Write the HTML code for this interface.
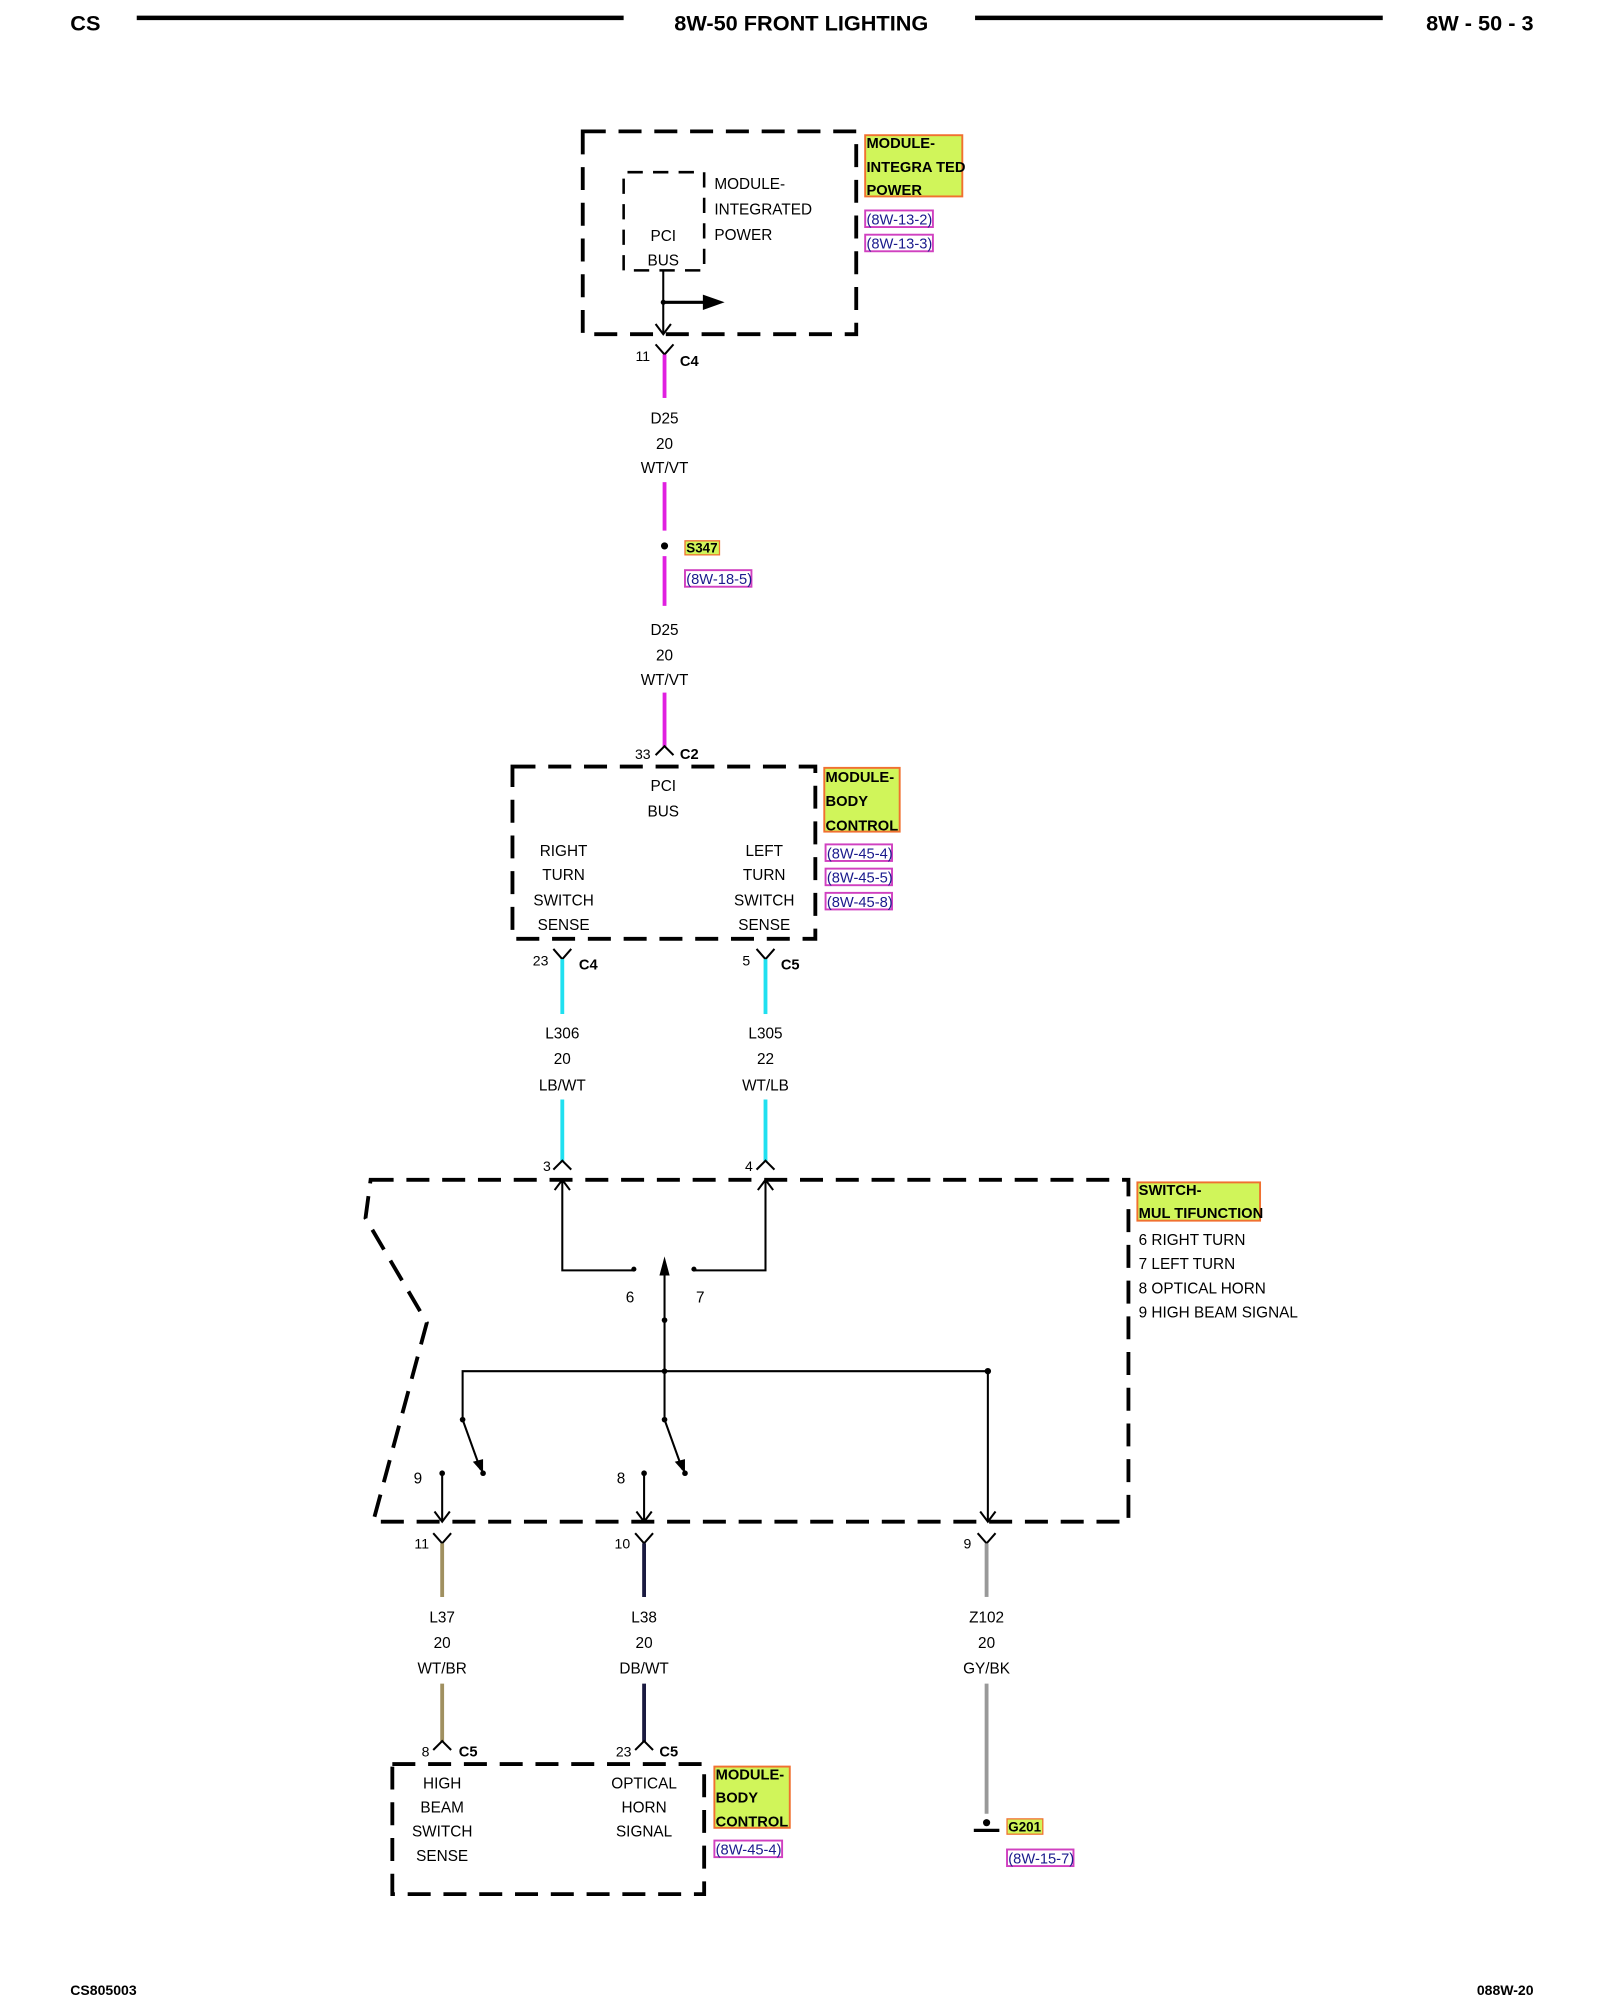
<!DOCTYPE html>
<html><head><meta charset="utf-8"><style>
html,body{margin:0;padding:0;background:#fff;}
svg{display:block;}
text{font-family:"Liberation Sans",sans-serif;fill:#000;}
.t{font-size:12px;text-anchor:middle;}
.l{font-size:12px;}
.b{font-size:11.5px;font-weight:bold;}
.r{font-size:11.5px;fill:#1a1a8c;}
.h{font-size:17px;font-weight:bold;}
.d{fill:none;stroke:#000;stroke-width:3;stroke-dasharray:18 10;}
.w{fill:none;stroke:#000;stroke-width:1.6;}
.yl{fill:#d0f55a;stroke:#f07030;stroke-width:1.5;}
.rb{fill:#fff;stroke:#d040c0;stroke-width:1.5;}
</style></head><body>
<svg width="1600" height="2000" viewBox="0 0 1252 1568" preserveAspectRatio="none" xmlns="http://www.w3.org/2000/svg">
<!-- header -->
<text x="55" y="24" class="h">CS</text>
<line x1="107" y1="14" x2="488" y2="14" stroke="#000" stroke-width="3.5"/>
<text x="627" y="24" class="h" text-anchor="middle">8W-50 FRONT LIGHTING</text>
<line x1="763" y1="14" x2="1082" y2="14" stroke="#000" stroke-width="3.5"/>
<text x="1200" y="24" class="h" text-anchor="end">8W - 50 - 3</text>
<text x="55" y="1564" style="font-size:11px;font-weight:bold">CS805003</text>
<text x="1200" y="1564" style="font-size:11px;font-weight:bold" text-anchor="end">088W-20</text>

<!-- box 1 -->
<rect x="456" y="103" width="214" height="159" class="d"/>
<path d="M488 212 V135 H551 V212 H488" fill="none" stroke="#000" stroke-width="2" stroke-dasharray="12 8"/>
<text x="519" y="189" class="t">PCI</text>
<text x="519" y="208" class="t">BUS</text>
<text x="559" y="148" class="l">MODULE-</text>
<text x="559" y="168" class="l">INTEGRATED</text>
<text x="559" y="188" class="l">POWER</text>
<line x1="519" y1="212" x2="519" y2="262" class="w"/>
<path d="M513 254 L519 262 L525 254" class="w"/>
<circle cx="519" cy="237" r="2" fill="#000"/>
<line x1="519" y1="237" x2="552" y2="237" stroke="#000" stroke-width="2.5"/>
<path d="M550 231 L567 237 L550 243Z" fill="#000"/>
<rect x="677" y="106" width="76" height="48" class="yl"/>
<text x="678" y="116" class="b">MODULE-</text>
<text x="678" y="135" class="b">INTEGRA TED</text>
<text x="678" y="153" class="b">POWER</text>
<rect x="677" y="165" width="53" height="13" class="rb"/><text x="678" y="176" class="r">(8W-13-2)</text>
<rect x="677" y="184" width="53" height="13" class="rb"/><text x="678" y="195" class="r">(8W-13-3)</text>

<!-- D25 -->
<path d="M513 270 L520 278 L527 270" class="w"/>
<text x="503" y="283" class="t" style="font-size:11px">11</text>
<text x="532" y="287" class="b">C4</text>
<line x1="520" y1="278" x2="520" y2="312" stroke="#e020e0" stroke-width="3"/>
<text x="520" y="332" class="t">D25</text><text x="520" y="352" class="t">20</text><text x="520" y="371" class="t">WT/VT</text>
<line x1="520" y1="378" x2="520" y2="416" stroke="#e020e0" stroke-width="3"/>
<circle cx="520" cy="428" r="2.8" fill="#000"/>
<rect x="536" y="424" width="27" height="11" fill="#d0f55a" stroke="#f07030"/>
<text x="537" y="433" class="b" style="font-size:10.5px">S347</text>
<rect x="536" y="447" width="52" height="13" class="rb"/><text x="537" y="458" class="r">(8W-18-5)</text>
<line x1="520" y1="436" x2="520" y2="475" stroke="#e020e0" stroke-width="3"/>
<text x="520" y="498" class="t">D25</text><text x="520" y="518" class="t">20</text><text x="520" y="537" class="t">WT/VT</text>
<line x1="520" y1="543" x2="520" y2="586" stroke="#e020e0" stroke-width="3"/>
<path d="M513 592 L520 585 L527 592" class="w"/>
<text x="503" y="595" class="t" style="font-size:11px">33</text>
<text x="532" y="595" class="b">C2</text>

<!-- box 2 -->
<rect x="401" y="601" width="237" height="135" class="d"/>
<text x="519" y="620" class="t">PCI</text><text x="519" y="640" class="t">BUS</text>
<text x="441" y="671" class="t">RIGHT</text><text x="441" y="690" class="t">TURN</text><text x="441" y="710" class="t">SWITCH</text><text x="441" y="729" class="t">SENSE</text>
<text x="598" y="671" class="t">LEFT</text><text x="598" y="690" class="t">TURN</text><text x="598" y="710" class="t">SWITCH</text><text x="598" y="729" class="t">SENSE</text>
<rect x="645" y="602" width="59" height="50" class="yl"/>
<text x="646" y="613" class="b">MODULE-</text><text x="646" y="632" class="b">BODY</text><text x="646" y="651" class="b">CONTROL</text>
<rect x="646" y="662" width="52" height="13" class="rb"/><text x="647" y="673" class="r">(8W-45-4)</text>
<rect x="646" y="681" width="52" height="13" class="rb"/><text x="647" y="692" class="r">(8W-45-5)</text>
<rect x="646" y="700" width="52" height="13" class="rb"/><text x="647" y="711" class="r">(8W-45-8)</text>

<!-- cyan wires -->
<path d="M433 744 L440 752 L447 744" class="w"/>
<path d="M592 744 L599 752 L606 744" class="w"/>
<text x="423" y="757" class="t" style="font-size:11px">23</text><text x="453" y="760" class="b">C4</text>
<text x="584" y="757" class="t" style="font-size:11px">5</text><text x="611" y="760" class="b">C5</text>
<line x1="440" y1="752" x2="440" y2="795" stroke="#20e0f0" stroke-width="3"/>
<line x1="599" y1="752" x2="599" y2="795" stroke="#20e0f0" stroke-width="3"/>
<text x="440" y="814" class="t">L306</text><text x="440" y="834" class="t">20</text><text x="440" y="855" class="t">LB/WT</text>
<text x="599" y="814" class="t">L305</text><text x="599" y="834" class="t">22</text><text x="599" y="855" class="t">WT/LB</text>
<line x1="440" y1="862" x2="440" y2="911" stroke="#20e0f0" stroke-width="3"/>
<line x1="599" y1="862" x2="599" y2="911" stroke="#20e0f0" stroke-width="3"/>
<path d="M433 917 L440 910 L447 917" class="w"/>
<path d="M592 917 L599 910 L606 917" class="w"/>
<text x="428" y="918" class="t" style="font-size:11px">3</text>
<text x="586" y="918" class="t" style="font-size:11px">4</text>

<!-- switch box -->
<path d="M290 925 H883 V1193 H292 L334 1037 L286 955 Z" class="d"/>
<rect x="890" y="927" width="96" height="30" class="yl"/>
<text x="891" y="937" class="b">SWITCH-</text><text x="891" y="955" class="b">MUL TIFUNCTION</text>
<text x="891" y="976" class="l">6 RIGHT TURN</text>
<text x="891" y="995" class="l">7 LEFT TURN</text>
<text x="891" y="1014" class="l">8 OPTICAL HORN</text>
<text x="891" y="1033" class="l">9 HIGH BEAM SIGNAL</text>

<path d="M496 996 H440 V925 M434 933 L440 925 L446 933" class="w"/>
<path d="M543 996 H599 V925 M593 933 L599 925 L605 933" class="w"/>
<circle cx="496" cy="995" r="2" fill="#000"/><circle cx="543" cy="995" r="2" fill="#000"/>
<line x1="520" y1="995" x2="520" y2="1113" class="w"/>
<path d="M516 1000 L520 985 L524 1000Z" fill="#000"/>
<circle cx="520" cy="1035" r="2.2" fill="#000"/><circle cx="520" cy="1075" r="2.2" fill="#000"/>
<text x="493" y="1021" class="t">6</text><text x="548" y="1021" class="t">7</text>
<path d="M362 1113 V1075 H773 V1193 M767 1185 L773 1193 L779 1185" class="w"/>
<circle cx="773" cy="1075" r="2.5" fill="#000"/>
<circle cx="362" cy="1113" r="2.2" fill="#000"/><circle cx="520" cy="1113" r="2.2" fill="#000"/>
<path d="M362 1113 L376 1152" class="w" stroke-width="2"/><path d="M370 1146 L378 1155 L378 1144Z" fill="#000"/>
<path d="M520 1113 L534 1152" class="w" stroke-width="2"/><path d="M528 1146 L536 1155 L536 1144Z" fill="#000"/>
<circle cx="378" cy="1155" r="2.2" fill="#000"/><circle cx="536" cy="1155" r="2.2" fill="#000"/>
<circle cx="346" cy="1155" r="2.2" fill="#000"/><circle cx="504" cy="1155" r="2.2" fill="#000"/>
<path d="M346 1155 V1193 M340 1185 L346 1193 L352 1185" class="w"/>
<path d="M504 1155 V1193 M498 1185 L504 1193 L510 1185" class="w"/>
<text x="327" y="1163" class="t">9</text><text x="486" y="1163" class="t">8</text>

<!-- lower wires -->
<path d="M339 1202 L346 1210 L353 1202" class="w"/>
<path d="M497 1202 L504 1210 L511 1202" class="w"/>
<path d="M765 1202 L772 1210 L779 1202" class="w"/>
<text x="330" y="1214" class="t" style="font-size:11px">11</text>
<text x="487" y="1214" class="t" style="font-size:11px">10</text>
<text x="757" y="1214" class="t" style="font-size:11px">9</text>
<line x1="346" y1="1210" x2="346" y2="1252" stroke="#a09060" stroke-width="3"/>
<line x1="504" y1="1210" x2="504" y2="1252" stroke="#1a1a40" stroke-width="3"/>
<line x1="772" y1="1210" x2="772" y2="1252" stroke="#999" stroke-width="3"/>
<text x="346" y="1272" class="t">L37</text><text x="346" y="1292" class="t">20</text><text x="346" y="1312" class="t">WT/BR</text>
<text x="504" y="1272" class="t">L38</text><text x="504" y="1292" class="t">20</text><text x="504" y="1312" class="t">DB/WT</text>
<text x="772" y="1272" class="t">Z102</text><text x="772" y="1292" class="t">20</text><text x="772" y="1312" class="t">GY/BK</text>
<line x1="346" y1="1320" x2="346" y2="1366" stroke="#a09060" stroke-width="3"/>
<line x1="504" y1="1320" x2="504" y2="1366" stroke="#1a1a40" stroke-width="3"/>
<line x1="772" y1="1320" x2="772" y2="1422" stroke="#999" stroke-width="3"/>
<path d="M339 1372 L346 1365 L353 1372" class="w"/>
<path d="M497 1372 L504 1365 L511 1372" class="w"/>
<text x="333" y="1377" class="t" style="font-size:11px">8</text><text x="359" y="1377" class="b">C5</text>
<text x="488" y="1377" class="t" style="font-size:11px">23</text><text x="516" y="1377" class="b">C5</text>

<!-- box 3 -->
<rect x="307" y="1383" width="244" height="102" class="d"/>
<text x="346" y="1402" class="t">HIGH</text><text x="346" y="1421" class="t">BEAM</text><text x="346" y="1440" class="t">SWITCH</text><text x="346" y="1459" class="t">SENSE</text>
<text x="504" y="1402" class="t">OPTICAL</text><text x="504" y="1421" class="t">HORN</text><text x="504" y="1440" class="t">SIGNAL</text>
<rect x="559" y="1385" width="59" height="48" class="yl"/>
<text x="560" y="1395" class="b">MODULE-</text><text x="560" y="1413" class="b">BODY</text><text x="560" y="1432" class="b">CONTROL</text>
<rect x="559" y="1443" width="53" height="13" class="rb"/><text x="560" y="1454" class="r">(8W-45-4)</text>

<!-- ground -->
<circle cx="772" cy="1429" r="2.8" fill="#000"/>
<line x1="762" y1="1435" x2="782" y2="1435" stroke="#000" stroke-width="2.5"/>
<rect x="788" y="1426" width="28" height="12" fill="#d0f55a" stroke="#f07030"/>
<text x="789" y="1436" class="b" style="font-size:10.5px">G201</text>
<rect x="788" y="1450" width="52" height="13" class="rb"/><text x="789" y="1461" class="r">(8W-15-7)</text>
</svg>
</body></html>
